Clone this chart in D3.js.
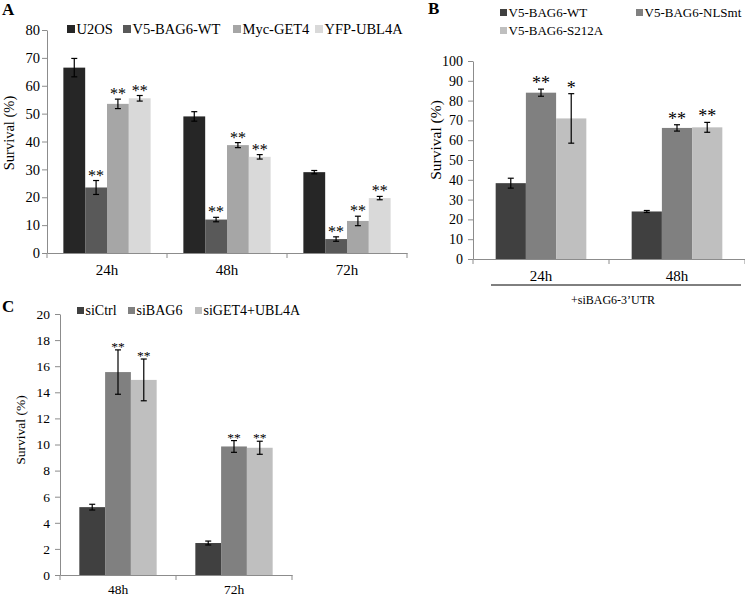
<!DOCTYPE html>
<html><head><meta charset="utf-8">
<script src="https://cdn.jsdelivr.net/npm/d3@7"></script>
<style>body{margin:0;background:#fff}svg{display:block}svg text{font-family:"Liberation Serif","Times New Roman",serif}</style>
</head><body><svg id="c" width="745" height="597"></svg>
<script>
// ---- Panel A data ----
const catsA = ["24h", "48h", "72h"];
const seriesA = ["U2OS", "V5-BAG6-WT", "Myc-GET4", "YFP-UBL4A"];
const colorsA = ["#262626", "#595959", "#a6a6a6", "#d9d9d9"];
const valuesA = [[66.5, 49, 29], [23.5, 12, 5], [53.5, 38.7, 11.5], [55.5, 34.5, 19.7]];
const errA = [[3.3, 1.7, 0.6], [2.5, 0.8, 0.8], [1.7, 0.9, 1.7], [1.0, 0.8, 0.6]];
const sigA = [["", "", ""], ["**", "**", "**"], ["**", "**", "**"], ["**", "**", "**"]];
const ticksA = [0, 10, 20, 30, 40, 50, 60, 70, 80];
// ---- Panel B data ----
const catsB = ["24h", "48h"];
const seriesB = ["V5-BAG6-WT", "V5-BAG6-NLSmt", "V5-BAG6-S212A"];
const colorsB = ["#404040", "#808080", "#bfbfbf"];
const valuesB = [[38.3, 24], [84, 66.2], [71, 66.5]];
const errB = [[2.5, 0.5], [1.8, 1.6], [12.5, 2.5]];
const sigB = [["", ""], ["**", "**"], ["*", "**"]];
const ticksB = [0, 10, 20, 30, 40, 50, 60, 70, 80, 90, 100];
// ---- Panel C data ----
const catsC = ["48h", "72h"];
const seriesC = ["siCtrl", "siBAG6", "siGET4+UBL4A"];
const colorsC = ["#404040", "#808080", "#bfbfbf"];
const valuesC = [[5.2, 2.45], [15.55, 9.85], [14.95, 9.75]];
const errC = [[0.22, 0.15], [1.7, 0.45], [1.6, 0.5]];
const sigC = [["", ""], ["**", "**"], ["**", "**"]];
const ticksC = [0, 2, 4, 6, 8, 10, 12, 14, 16, 18, 20];

const svg = d3.select("#c");
const AX = "#8c8c8c";
const SERIF = '"Liberation Serif", "Times New Roman", serif';

function panel(o) {
  const g = svg.append("g");
  const x = d3.scaleBand().domain(o.cats).range([o.x0, o.x1]).padding(0);
  const xi = d3.scaleBand().domain(o.series).range([0, x.bandwidth()]).paddingInner(0).paddingOuter(0.75);
  const y = d3.scaleLinear().domain([0, d3.max(o.ticks)]).range([o.y0, o.y1]);
  o.series.forEach((s, si) => {
    const gs = g.append("g");
    gs.selectAll("rect").data(o.cats).join("rect")
      .attr("x", c => x(c) + xi(s)).attr("width", xi.bandwidth())
      .attr("y", (c, ci) => y(o.values[si][ci]))
      .attr("height", (c, ci) => y(0) - y(o.values[si][ci]))
      .attr("fill", o.colors[si]);
    o.cats.forEach((c, ci) => {
      const cx = x(c) + xi(s) + xi.bandwidth() / 2;
      const v = o.values[si][ci], e = o.err[si][ci];
      const yt = y(v + e), yb = y(v - e);
      gs.append("line").attr("x1", cx).attr("x2", cx).attr("y1", yt).attr("y2", yb).attr("stroke", "#000").attr("stroke-width", 1.2);
      [yt, yb].forEach(yy => gs.append("line").attr("x1", cx - 3).attr("x2", cx + 3).attr("y1", yy).attr("y2", yy).attr("stroke", "#000").attr("stroke-width", 1.2));
      if (o.sig[si][ci]) {
        gs.append("text").attr("x", cx).attr("y", yt + o.starDy).attr("text-anchor", "middle")
          .style("font-family", SERIF).attr("font-size", o.starSize).attr("fill", "#000").text(o.sig[si][ci]);
      }
    });
  });
  const ya = g.append("g").attr("transform", `translate(${o.x0},0)`)
    .call(d3.axisLeft(y).tickValues(o.ticks).tickSize(5).tickSizeOuter(0).tickPadding(o.tickPad));
  ya.select(".domain").attr("stroke", AX);
  ya.selectAll(".tick line").attr("stroke", AX);
  ya.selectAll(".tick text").style("font-family", SERIF).attr("font-size", o.tickSize).attr("fill", "#000");
  const xa = g.append("g").attr("transform", `translate(0,${o.y0})`)
    .call(d3.axisBottom(x).tickSize(0).tickPadding(o.catPad));
  xa.select(".domain").attr("stroke", AX);
  xa.selectAll(".tick text").style("font-family", SERIF).attr("font-size", o.catSize).attr("fill", "#000");
  const bounds = o.cats.map(c => x(c)).concat([o.x1]);
  g.selectAll(".xt").data(bounds).join("line").attr("class", "xt")
    .attr("x1", d => d).attr("x2", d => d).attr("y1", o.y0).attr("y2", o.y0 + 5).attr("stroke", AX);
  g.append("text").attr("transform", `translate(${o.titleX},${o.titleY}) rotate(-90)`)
    .attr("text-anchor", "middle").attr("font-size", o.titleSize).style("font-family", SERIF).text("Survival (%)");
  g.append("text").attr("x", o.letterX).attr("y", o.letterY).attr("font-weight", "bold").attr("font-size", 17)
    .style("font-family", SERIF).text(o.letter);
  o.series.forEach((s, si) => {
    const p = o.legend[si];
    g.append("rect").attr("x", p[0]).attr("y", p[1] - o.legSq - 1).attr("width", o.legSq).attr("height", o.legSq).attr("fill", o.colors[si]);
    g.append("text").attr("x", p[0] + o.legSq + 1.5).attr("y", p[1]).attr("font-size", o.legSize)
      .style("font-family", SERIF).text(s);
  });
  return {g, x, y};
}

panel({cats: catsA, series: seriesA, colors: colorsA, values: valuesA, err: errA, sig: sigA, ticks: ticksA,
  x0: 47, x1: 407, y0: 253, y1: 30, tickSize: 14.5, tickPad: 2, catSize: 15, catPad: 11, titleSize: 14.5, titleX: 14, titleY: 133,
  starSize: 16, starDy: 0, letter: "A", letterX: 2, letterY: 15,
  legend: [[67, 34], [123, 34], [233, 34], [315, 34]], legSq: 8, legSize: 14.5});

const pb = panel({cats: catsB, series: seriesB, colors: colorsB, values: valuesB, err: errB, sig: sigB, ticks: ticksB,
  x0: 473, x1: 745, y0: 259, y1: 61, tickSize: 14, tickPad: 5, catSize: 15, catPad: 11, titleSize: 15.5, titleX: 441, titleY: 140,
  starSize: 18, starDy: 0, letter: "B", letterX: 428, letterY: 14,
  legend: [[500, 17], [636, 17], [500, 35]], legSq: 7, legSize: 13});
pb.g.append("line").attr("x1", 491).attr("x2", 741).attr("y1", 285).attr("y2", 285).attr("stroke", "#000").attr("stroke-width", 1);
pb.g.append("text").attr("x", 613).attr("y", 304).attr("text-anchor", "middle").attr("font-size", 12)
  .style("font-family", SERIF).text("+siBAG6-3\u2019UTR");

panel({cats: catsC, series: seriesC, colors: colorsC, values: valuesC, err: errC, sig: sigC, ticks: ticksC,
  x0: 60, x1: 292, y0: 575, y1: 314, tickSize: 13.5, tickPad: 5, catSize: 13.5, catPad: 9.5, titleSize: 13.5, titleX: 25, titleY: 430,
  starSize: 13.5, starDy: 1, letter: "C", letterX: 2, letterY: 312,
  legend: [[77, 315], [128, 315], [195, 315]], legSq: 7, legSize: 14});
</script></body></html>
